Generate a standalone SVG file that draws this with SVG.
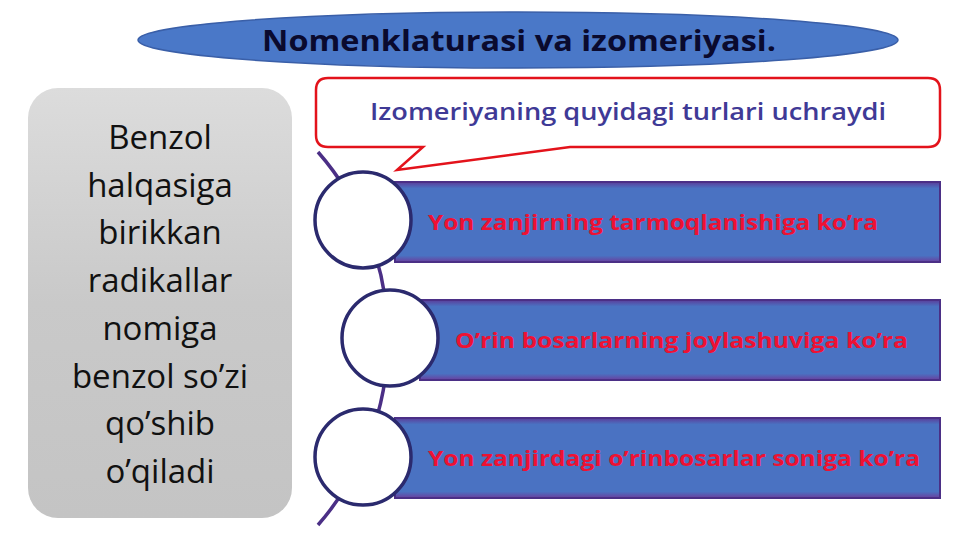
<svg xmlns="http://www.w3.org/2000/svg" width="960" height="540" viewBox="0 0 960 540">
<defs>
<linearGradient id="gray" x1="0" y1="0" x2="0" y2="1">
<stop offset="0" stop-color="#dcdcdc"/>
<stop offset="0.5" stop-color="#c9c9c9"/>
<stop offset="1" stop-color="#c4c4c4"/>
</linearGradient>
<linearGradient id="bar" x1="0" y1="0" x2="0" y2="1">
<stop offset="0" stop-color="#5b3d9a"/>
<stop offset="0.08" stop-color="#4a72c2"/>
<stop offset="0.92" stop-color="#4a72c2"/>
<stop offset="1" stop-color="#6a3f9e"/>
</linearGradient>
</defs>
<style>
.bar{fill:url(#bar);stroke:#4b2f86;stroke-width:2}
.circ{fill:#ffffff;stroke:#2b2a6e;stroke-width:3.5}
.lbl{font-family:"Open Sans","Liberation Sans",sans-serif;font-weight:bold;font-size:22px;fill:#ee1133}
.side{font-family:"Open Sans","Liberation Sans",sans-serif;font-size:33px;fill:#111111;text-anchor:middle}
</style>
<rect width="960" height="540" fill="#ffffff"/>
<g id="title">
<ellipse cx="518" cy="40" rx="380" ry="28" fill="#4a78c8" stroke="#3a5fa8" stroke-width="1.5"/>
<text x="519" y="51" text-anchor="middle" font-family="Open Sans, Liberation Sans, sans-serif" font-weight="bold" font-size="29" fill="#0a0a2e" textLength="514" lengthAdjust="spacingAndGlyphs">Nomenklaturasi va izomeriyasi.</text>
</g>
<g id="side-panel">
<rect x="28" y="88" width="264" height="430" rx="30" fill="url(#gray)"/>
<text class="side" x="160" y="149">Benzol</text>
<text class="side" x="160" y="197">halqasiga</text>
<text class="side" x="160" y="244">birikkan</text>
<text class="side" x="160" y="292">radikallar</text>
<text class="side" x="160" y="340">nomiga</text>
<text class="side" x="160" y="388">benzol so’zi</text>
<text class="side" x="160" y="435">qo’shib</text>
<text class="side" x="160" y="483">o’qiladi</text>
</g>
<g id="connectors">
<path d="M318 152 A283.4 283.4 0 0 1 318 525" fill="none" stroke="#4b2f86" stroke-width="3.5"/>
</g>
<g id="callout">
<path d="M328 78 H928 Q940 78 940 90 V135 Q940 147 928 147 H570 L397 170 L423 147 H328 Q316 147 316 135 V90 Q316 78 328 78 Z" fill="#ffffff" stroke="#e3131b" stroke-width="2.5"/>
<text x="628" y="120" text-anchor="middle" font-family="Open Sans, Liberation Sans, sans-serif" font-weight="600" font-size="23" fill="#3f3a96" textLength="516" lengthAdjust="spacingAndGlyphs">Izomeriyaning quyidagi turlari uchraydi</text>
</g>
<g id="item1">
<rect class="bar" x="395" y="182" width="545" height="80"/>
<circle class="circ" cx="363" cy="220" r="48"/>
<text class="lbl" x="428" y="230" textLength="450" lengthAdjust="spacingAndGlyphs">Yon zanjirning tarmoqlanishiga ko’ra</text>
</g>
<g id="item2">
<rect class="bar" x="420" y="300" width="520" height="80"/>
<circle class="circ" cx="390" cy="338" r="48"/>
<text class="lbl" x="455" y="348" textLength="453" lengthAdjust="spacingAndGlyphs">O’rin bosarlarning joylashuviga ko’ra</text>
</g>
<g id="item3">
<rect class="bar" x="395" y="418" width="545" height="80"/>
<circle class="circ" cx="363" cy="457" r="48"/>
<text class="lbl" x="428" y="466" textLength="492" lengthAdjust="spacingAndGlyphs">Yon zanjirdagi o’rinbosarlar soniga ko’ra</text>
</g>
</svg>
